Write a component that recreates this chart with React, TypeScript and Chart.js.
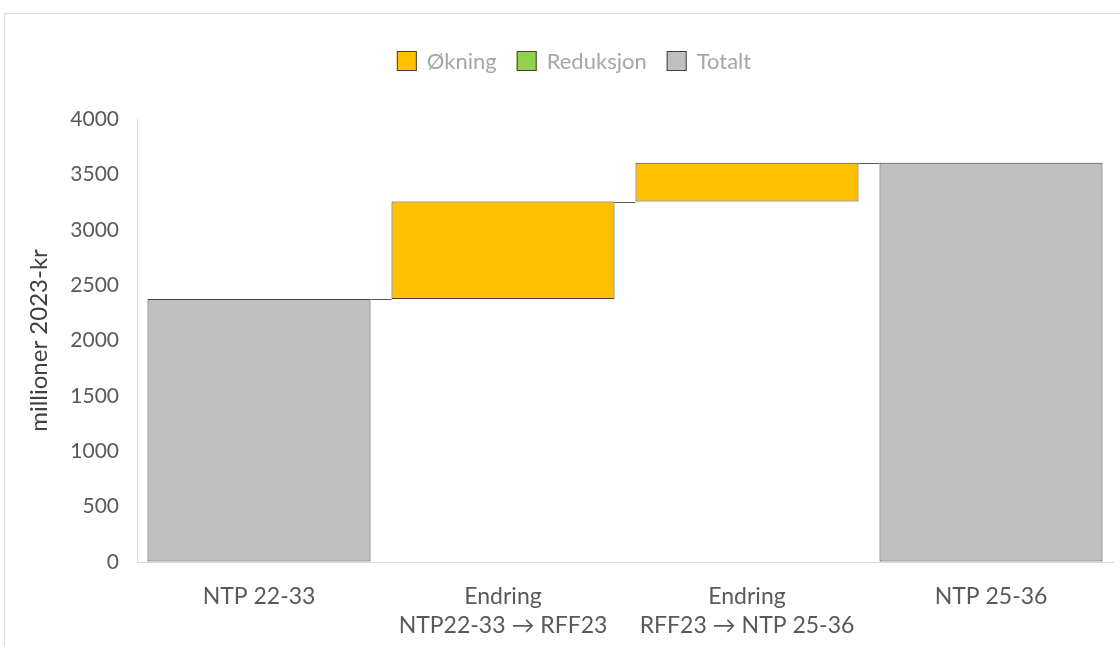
import { useEffect, useRef } from "react";
import { Chart, registerables } from "chart.js";

Chart.register(...registerables);

const categories: string[][] = [
  ["NTP 22-33"],
  ["Endring", "NTP22-33 → RFF23"],
  ["Endring", "RFF23 → NTP 25-36"],
  ["NTP 25-36"],
];
const totalValues: (number | null)[] = [2375, null, null, 3605];
const increaseFrom: (number | null)[] = [null, 2375, 3255, null];
const increaseTo: (number | null)[] = [null, 3255, 3605, null];
const reductionFrom: (number | null)[] = [null, null, null, null];
const reductionTo: (number | null)[] = [null, null, null, null];
const legendLabels = ["Økning", "Reduksjon", "Totalt"];
const legendColors = ["#FFC000", "#92D050", "#BFBFBF"];
const yMin = 0;
const yMax = 4000;
const yStep = 500;
const yTitle = "millioner 2023-kr";

const FONT = "Lato, 'Noto Sans', sans-serif";

const pair = (a: (number | null)[], b: (number | null)[]) =>
  a.map((v, i) => (v === null || b[i] === null ? null : [v, b[i] as number]));

export default function App() {
  const ref = useRef<HTMLCanvasElement | null>(null);

  useEffect(() => {
    if (!ref.current) return;

    const connectorPlugin = {
      id: "connectors",
      afterDatasetsDraw(chart: any) {
        const ctx = chart.ctx;
        const yScale = chart.scales.y;
        const n = categories.length;
        const findEl = (i: number) => {
          for (let d = 0; d < chart.data.datasets.length; d++) {
            const v = chart.data.datasets[d].data[i];
            if (v !== null && v !== undefined) {
              const el = chart.getDatasetMeta(d).data[i];
              return { el, v };
            }
          }
          return null;
        };
        ctx.save();
        ctx.strokeStyle = "#595959";
        ctx.lineWidth = 1;
        for (let i = 0; i < n - 1; i++) {
          const a = findEl(i);
          const b = findEl(i + 1);
          if (!a || !b) continue;
          const level = Array.isArray(a.v) ? a.v[1] : a.v;
          const y = Math.round(yScale.getPixelForValue(level)) + 0.5;
          const x1 = a.el.x + a.el.width / 2;
          const x2 = b.el.x - b.el.width / 2;
          ctx.beginPath();
          ctx.moveTo(x1, y);
          ctx.lineTo(x2, y);
          ctx.stroke();
        }
        ctx.restore();
      },
    };

    const legendPlugin = {
      id: "customLegend",
      afterDraw(chart: any) {
        const ctx = chart.ctx;
        ctx.save();
        ctx.font = `22px ${FONT}`;
        const box = 20;
        const gapText = 10;
        const gapItem = 20;
        const widths = legendLabels.map((l) => box + gapText + ctx.measureText(l).width);
        const total = widths.reduce((s, w) => s + w, 0) + gapItem * (legendLabels.length - 1);
        let x = 574 - total / 2;
        const cy = 61;
        legendLabels.forEach((l, i) => {
          ctx.fillStyle = legendColors[i];
          ctx.fillRect(x, cy - box / 2, box, box);
          ctx.strokeStyle = "#404040";
          ctx.lineWidth = 1;
          ctx.strokeRect(x + 0.5, cy - box / 2 + 0.5, box - 1, box - 1);
          ctx.fillStyle = "#A6A6A6";
          ctx.textBaseline = "middle";
          ctx.textAlign = "left";
          ctx.fillText(l, x + box + gapText, cy + 1);
          x += widths[i] + gapItem;
        });
        ctx.restore();
      },
    };

    const common = {
      grouped: false,
      barPercentage: 0.914,
      categoryPercentage: 1,
      borderWidth: 1,
      borderColor: "#404040",
      borderSkipped: false as const,
    };

    const chart = new Chart(ref.current, {
      type: "bar",
      data: {
        labels: categories,
        datasets: [
          { label: legendLabels[0], data: pair(increaseFrom, increaseTo) as any, backgroundColor: legendColors[0], ...common },
          { label: legendLabels[1], data: pair(reductionFrom, reductionTo) as any, backgroundColor: legendColors[1], ...common },
          { label: legendLabels[2], data: totalValues.map((v) => (v === null ? null : [0, v])) as any, backgroundColor: legendColors[2], ...common },
        ],
      },
      options: {
        animation: false,
        responsive: false,
        maintainAspectRatio: false,
        layout: { padding: { left: 21, top: 119, right: 7, bottom: 0 } },
        plugins: {
          legend: { display: false },
          tooltip: { enabled: false },
        },
        scales: {
          x: {
            grid: { display: true, drawOnChartArea: false, drawTicks: false },
            border: { display: true, color: "#D9D9D9", width: 1 },
            ticks: {
              color: "#595959",
              font: { family: FONT, size: 23, lineHeight: 1.26 },
              padding: 20,
              maxRotation: 0,
              autoSkip: false,
            },
            afterFit: (s: any) => {
              s.height = 84;
            },
          },
          y: {
            min: yMin,
            max: yMax,
            grid: { display: true, drawOnChartArea: false, drawTicks: false },
            border: { display: true, color: "#D9D9D9", width: 1 },
            ticks: {
              stepSize: yStep,
              color: "#595959",
              font: { family: FONT, size: 21 },
              padding: 18,
              callback: (v: any) => String(v),
            },
            title: {
              display: true,
              text: yTitle,
              color: "#404040",
              font: { family: FONT, size: 24 },
              padding: 4,
            },
            afterFit: (s: any) => {
              s.width = 116;
            },
          },
        },
      },
      plugins: [connectorPlugin, legendPlugin],
    });
    return () => chart.destroy();
  }, []);

  return (
    <div style={{ position: "absolute", left: 0, top: 0, width: 1120, height: 646, background: "#fff", overflow: "hidden" }}>
      <div
        style={{
          position: "absolute",
          left: 4,
          top: 13,
          width: 1200,
          height: 700,
          border: "1px solid #D9D9D9",
          boxSizing: "border-box",
        }}
      />
      <canvas ref={ref} width={1120} height={646} style={{ position: "absolute", left: 0, top: 0, display: "block" }} />
    </div>
  );
}
